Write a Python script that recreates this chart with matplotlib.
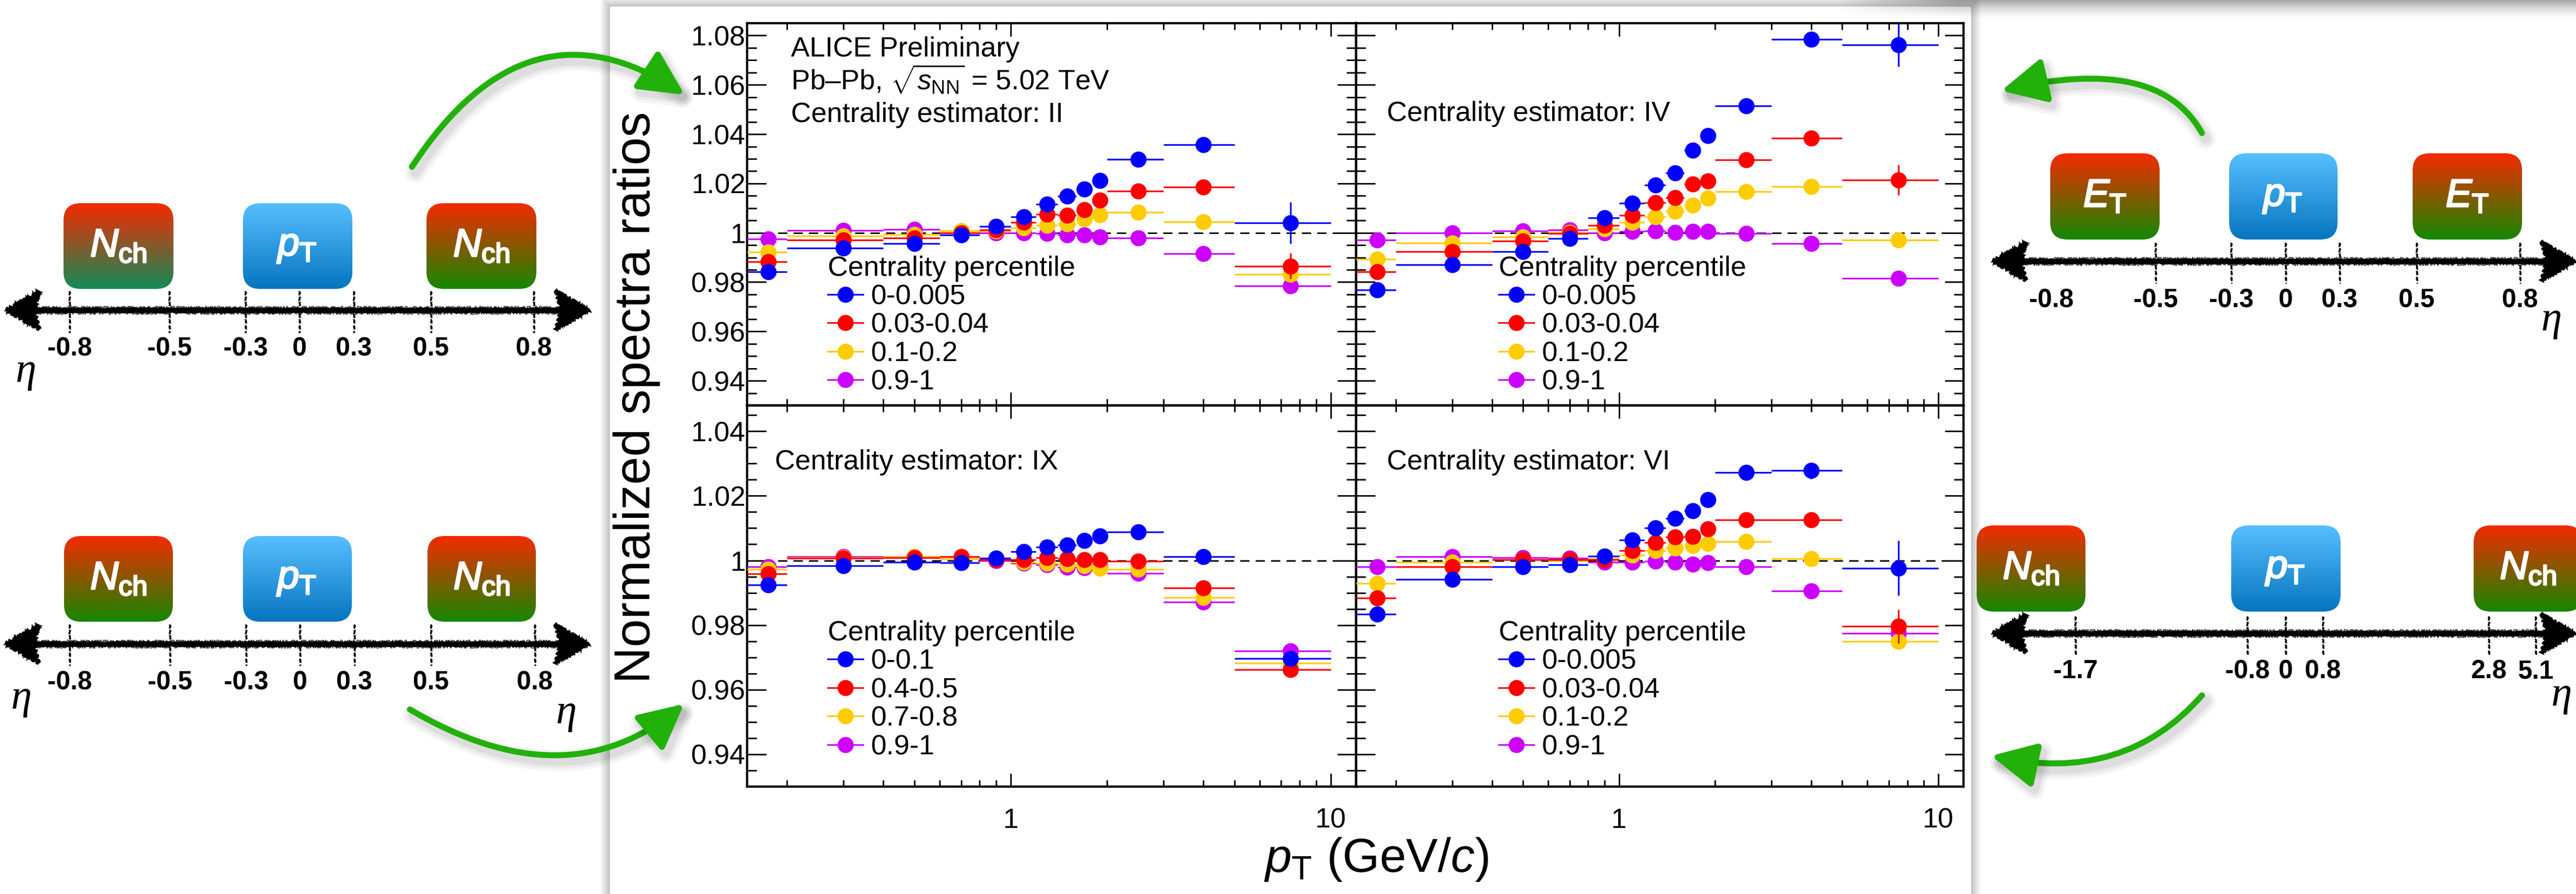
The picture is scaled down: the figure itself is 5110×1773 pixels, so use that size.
import numpy as np
import matplotlib

matplotlib.use("Agg")
import matplotlib.pyplot as plt
import matplotlib.patheffects as pe
from matplotlib.colors import to_rgb
from matplotlib.lines import Line2D
from matplotlib.patches import FancyArrowPatch, FancyBboxPatch, Polygon, Rectangle
from matplotlib.path import Path
from matplotlib.ticker import FixedLocator, FuncFormatter, MultipleLocator, NullFormatter

plt.rcParams["font.family"] = ["Liberation Sans", "DejaVu Sans"]
plt.rcParams["mathtext.fontset"] = "custom"
plt.rcParams["mathtext.rm"] = "Liberation Sans"
plt.rcParams["mathtext.it"] = "Liberation Sans:italic"
plt.rcParams["mathtext.bf"] = "Liberation Sans:bold"

W, H = 5110, 1773

# ---------------- data ----------------
pt_lo = [0.15, 0.2, 0.4, 0.6, 0.8, 1.0, 1.2, 1.4, 1.6, 1.8, 2.0, 3.0, 5.0]
pt_hi = [0.2, 0.4, 0.6, 0.8, 1.0, 1.2, 1.4, 1.6, 1.8, 2.0, 3.0, 5.0, 10.0]
pt_c = [0.175, 0.3, 0.5, 0.7, 0.9, 1.1, 1.3, 1.5, 1.7, 1.9, 2.5, 4.0, 7.5]

cent_ctr = ["0-0.005", "0.03-0.04", "0.1-0.2", "0.9-1"]
cent_IX = ["0-0.1", "0.4-0.5", "0.7-0.8", "0.9-1"]
series_colors = ["#0000ff", "#ff0000", "#ffcc00", "#cc00ff"]

# estimator II
II_0 = [0.9842, 0.9937, 0.9956, 0.9991, 1.0025, 1.0065, 1.0115, 1.0149, 1.0178, 1.0212, 1.0298, 1.0358, 1.0041]
II_1 = [0.9882, 0.9970, 0.9979, 1.0000, 1.0011, 1.0042, 1.0075, 1.0071, 1.0094, 1.0132, 1.0169, 1.0186, 0.9865]
II_2 = [0.9922, 0.9987, 0.9993, 1.0008, 1.0008, 1.0020, 1.0031, 1.0037, 1.0056, 1.0073, 1.0083, 1.0045, 0.9832]
II_3 = [0.9974, 1.0010, 1.0014, 1.0008, 0.9999, 1.0000, 0.9997, 0.9991, 0.9991, 0.9983, 0.9979, 0.9916, 0.9784]
II_err = [0.0004, 0.0003, 0.0003, 0.0003, 0.0003, 0.0004, 0.0004, 0.0005, 0.0005, 0.0006, 0.0006, 0.0012, 0.0084]
II_err_1 = [0.0004, 0.0003, 0.0003, 0.0003, 0.0003, 0.0004, 0.0004, 0.0005, 0.0005, 0.0006, 0.0006, 0.0010, 0.0052]

# estimator IV
IV_0 = [0.9769, 0.9870, 0.9924, 0.9976, 1.0060, 1.0121, 1.0194, 1.0243, 1.0335, 1.0393, 1.0515, 1.0785, 1.0763]
IV_1 = [0.9842, 0.9924, 0.9966, 0.9997, 1.0029, 1.0071, 1.0122, 1.0142, 1.0197, 1.0209, 1.0295, 1.0383, 1.0214]
IV_2 = [0.9893, 0.9959, 0.9982, 1.0002, 1.0016, 1.0042, 1.0065, 1.0088, 1.0111, 1.0140, 1.0166, 1.0188, 0.9970]
IV_3 = [0.9970, 1.0000, 1.0008, 1.0011, 1.0000, 1.0005, 1.0008, 1.0002, 1.0005, 1.0005, 0.9997, 0.9956, 0.9816]
IV_err = [0.0004, 0.0003, 0.0003, 0.0003, 0.0003, 0.0004, 0.0004, 0.0005, 0.0005, 0.0006, 0.0006, 0.0012, 0.0089]
IV_err_1 = [0.0004, 0.0003, 0.0003, 0.0003, 0.0003, 0.0004, 0.0004, 0.0005, 0.0005, 0.0006, 0.0006, 0.0010, 0.0061]

# estimator IX
IX_0 = [0.9924, 0.9983, 0.9995, 0.9993, 1.0007, 1.0027, 1.0041, 1.0047, 1.0062, 1.0076, 1.0089, 1.0012, 0.9697]
IX_1 = [0.9959, 1.0007, 1.0009, 1.0012, 1.0002, 1.0002, 1.0009, 1.0005, 1.0003, 1.0003, 0.9997, 0.9915, 0.9662]
IX_2 = [0.9972, 1.0009, 1.0011, 1.0005, 1.0002, 0.9995, 0.9991, 0.9989, 0.9984, 0.9976, 0.9972, 0.9886, 0.9682]
IX_3 = [0.9981, 1.0011, 1.0012, 1.0005, 1.0000, 0.9991, 0.9986, 0.9979, 0.9978, 0.9981, 0.9960, 0.9872, 0.9720]
IX_err = [0.0003, 0.0002, 0.0002, 0.0002, 0.0002, 0.0003, 0.0003, 0.0003, 0.0003, 0.0004, 0.0004, 0.0006, 0.0010]

# estimator VI
VI_0 = [0.9834, 0.9941, 0.9981, 0.9986, 1.0014, 1.0064, 1.0101, 1.0131, 1.0154, 1.0188, 1.0273, 1.0278, 0.9976]
VI_1 = [0.9884, 0.9981, 1.0002, 1.0002, 1.0002, 1.0030, 1.0055, 1.0073, 1.0074, 1.0097, 1.0125, 1.0126, 0.9796]
VI_2 = [0.9929, 0.9995, 1.0002, 1.0000, 1.0005, 1.0016, 1.0030, 1.0038, 1.0046, 1.0052, 1.0059, 1.0005, 0.9749]
VI_3 = [0.9981, 1.0012, 1.0009, 1.0007, 0.9995, 0.9995, 0.9997, 0.9995, 0.9989, 0.9993, 0.9981, 0.9905, 0.9774]
VI_err = [0.0004, 0.0003, 0.0003, 0.0003, 0.0003, 0.0004, 0.0004, 0.0005, 0.0005, 0.0006, 0.0008, 0.0026, 0.0085]
VI_err_1 = [0.0004, 0.0003, 0.0003, 0.0003, 0.0003, 0.0004, 0.0004, 0.0005, 0.0005, 0.0006, 0.0006, 0.0010, 0.0052]

small_err = [0.0003, 0.0002, 0.0002, 0.0002, 0.0002, 0.0003, 0.0003, 0.0003, 0.0003, 0.0004, 0.0004, 0.0008, 0.0025]

# eta labels of the schematic detector sketches
eta_mid = ["-0.8", "-0.5", "-0.3", "0", "0.3", "0.5", "0.8"]
eta_fwd = ["-1.7", "-0.8", "0", "0.8", "2.8", "5.1"]

N_CH = r"$\mathit{N}_{\mathrm{ch}}$"
P_T = r"$\mathit{p}_{\mathrm{T}}$"
E_T = r"$\mathit{E}_{\mathrm{T}}$"

# ---------------- figure ----------------
fig = plt.figure(figsize=(W / 100, H / 100), dpi=100)
fig.patch.set_facecolor("white")
bg = fig.add_axes([0, 0, 1, 1], zorder=0)
bg.set_axis_off()

# central white card with soft shadow
for k in range(1, 21):
    bg.add_patch(Rectangle((1210 - k, 13 - k), 2700 + 2 * k, H + 40, fc="k", ec="none", alpha=0.012, zorder=0.5))
bg.add_patch(Rectangle((1210, 13), 2700, H + 40, fc="white", ec="none", zorder=0.6))

# shadow of another card at the top right
ny, nx = 40, 300
ramp_y = 0.5 * (1 - np.linspace(0, 1, ny)) ** 1.6
ramp_x = np.clip(np.linspace(0, 1, nx) * 6, 0, 1)
rgba = np.zeros((ny, nx, 4))
rgba[..., :3] = 0.3
rgba[..., 3] = ramp_y[:, None] * ramp_x[None, :]
bg.imshow(rgba, extent=(3640, W, 40, 0), aspect="auto", zorder=0.8, interpolation="bilinear")

# ---------------- panels ----------------
PX = [(1482, 2690), (2690, 3895)]
PY = [(46, 804), (804, 1560)]
YLIM = [(0.930, 1.085), (0.930, 1.048)]


def px_axes(x0, x1, y0, y1):
    return fig.add_axes([x0 / W, 1 - y1 / H, (x1 - x0) / W, (y1 - y0) / H], zorder=2)


def ytick_fmt(v, p):
    return ("%.2f" % v).rstrip("0").rstrip(".")


panels = [
    dict(r=0, c=0, ys=[II_0, II_1, II_2, II_3], errs=[II_err, II_err_1, small_err, small_err], labels=cent_ctr,
         title="Centrality estimator: II", tpos=(0.072, 0.741), leg=(0.1325, 0.392)),
    dict(r=0, c=1, ys=[IV_0, IV_1, IV_2, IV_3], errs=[IV_err, IV_err_1, small_err, small_err], labels=cent_ctr,
         title="Centrality estimator: IV", tpos=(0.0506, 0.744), leg=(0.2347, 0.392)),
    dict(r=1, c=0, ys=[IX_0, IX_1, IX_2, IX_3], errs=[IX_err, IX_err, IX_err, IX_err], labels=cent_IX,
         title="Centrality estimator: IX", tpos=(0.0455, 0.832), leg=(0.1325, 0.436)),
    dict(r=1, c=1, ys=[VI_0, VI_1, VI_2, VI_3], errs=[VI_err, VI_err_1, small_err, small_err], labels=cent_ctr,
         title="Centrality estimator: VI", tpos=(0.0506, 0.832), leg=(0.2347, 0.436)),
]

xlo = np.array(pt_c) - np.array(pt_lo)
xhi = np.array(pt_hi) - np.array(pt_c)

for p in panels:
    ax = px_axes(PX[p["c"]][0], PX[p["c"]][1], PY[p["r"]][0], PY[p["r"]][1])
    ax.set_facecolor("none")
    ax.set_xscale("log")
    ax.set_xlim(0.15, 12)
    ax.set_ylim(*YLIM[p["r"]])
    ax.axhline(1.0, color="k", lw=2.2, ls=(0, (6, 4)), zorder=1)
    order = [3, 2, 1, 0]
    for i in order:
        ax.errorbar(pt_c, p["ys"][i], xerr=[xlo, xhi], yerr=p["errs"][i], fmt="o", color=series_colors[i],
                    ms=23, mew=0, elinewidth=2.4, capsize=0, zorder=3 + (3 - i))
    ax.xaxis.set_major_locator(FixedLocator([1, 10]))
    ax.xaxis.set_minor_locator(FixedLocator([0.2, 0.3, 0.4, 0.5, 0.6, 0.7, 0.8, 0.9, 2, 3, 4, 5, 6, 7, 8, 9]))
    ax.xaxis.set_minor_formatter(NullFormatter())
    if p["r"] == 1:
        ax.xaxis.set_major_formatter(FuncFormatter(lambda v, q: "%g" % v))
    else:
        ax.xaxis.set_major_formatter(NullFormatter())
    ax.yaxis.set_major_locator(MultipleLocator(0.02))
    ax.yaxis.set_minor_locator(MultipleLocator(0.005))
    ax.yaxis.set_major_formatter(FuncFormatter(ytick_fmt))
    ax.tick_params(axis="both", which="both", direction="in", top=True, right=True, width=2.2, labelsize=40)
    ax.tick_params(axis="y", which="major", length=27, pad=2)
    ax.tick_params(axis="y", which="minor", length=14)
    ax.tick_params(axis="x", which="major", length=19, pad=30)
    ax.tick_params(axis="x", which="minor", length=9.5)
    if p["c"] == 1:
        ax.tick_params(axis="y", labelleft=False)
    for s in ax.spines.values():
        s.set_linewidth(3.2)

    if p["r"] == 0 and p["c"] == 0:
        ax.text(0.072, 0.913, "ALICE Preliminary", transform=ax.transAxes, fontsize=40, va="baseline")
        ax.text(0.072, 0.826, r"Pb–Pb, $\sqrt{s_{\mathrm{NN}}}$ = 5.02 TeV", transform=ax.transAxes,
                fontsize=40, va="baseline")
    ax.text(p["tpos"][0], p["tpos"][1], p["title"], transform=ax.transAxes, fontsize=40, va="baseline")

    handles = [Line2D([0], [0], color=series_colors[i], lw=2.4, marker="o", ms=23, mew=0) for i in range(4)]
    ax.legend(handles, p["labels"], title="Centrality percentile", loc="upper left", bbox_to_anchor=p["leg"],
              frameon=False, fontsize=40, title_fontsize=40, alignment="left", handlelength=1.26,
              handletextpad=0.29, labelspacing=0.08, borderpad=0, borderaxespad=0)

fig.text(1263 / W, 1 - 788 / H, "Normalized spectra ratios", rotation=90, fontsize=72, ha="center", va="center")
fig.text(2730 / W, 1 - 1729 / H, r"$p_{\mathrm{T}}$ (GeV/$c$)", fontsize=68, ha="center", va="baseline")

# ---------------- detector sketches ----------------
GRAD = {
    "det": ("#f52a00", "#148800"),
    "det_teal": ("#f52a00", "#138a58"),
    "pt": ("#57bfff", "#0675bf"),
}

diagrams = [
    dict(axis_y=615, x_from=12, x_to=1169, labels=eta_mid, tick_x=[138, 336, 487, 594, 702, 855, 1059],
         tick_show=[1, 1, 1, 1, 1, 1, 1], tick_span=(577, 660), lbl_y=706,
         boxes=[(126, 344, 403, 573, "det_teal", N_CH), (482, 699, 403, 573, "pt", P_T),
                (846, 1064, 403, 573, "det", N_CH)], etas=[(51, 745)]),
    dict(axis_y=1277, x_from=11, x_to=1168, labels=eta_mid, tick_x=[138, 337, 488, 595, 703, 855, 1061],
         tick_show=[1, 1, 1, 1, 1, 1, 1], tick_span=(1238, 1320), lbl_y=1367,
         boxes=[(127, 343, 1063, 1233, "det", N_CH), (482, 698, 1063, 1233, "pt", P_T),
                (848, 1063, 1063, 1233, "det", N_CH)], etas=[(42, 1393), (1123, 1422)]),
    dict(axis_y=518, x_from=3953, x_to=5108, labels=eta_mid, tick_x=[4069, 4276, 4426, 4534, 4641, 4794, 4999],
         tick_show=[0, 1, 1, 1, 1, 1, 1], tick_span=(481, 562), lbl_y=609,
         boxes=[(4067, 4284, 304, 475, "det", E_T), (4422, 4637, 304, 475, "pt", P_T),
                (4786, 5003, 304, 475, "det", E_T)], etas=[(5061, 643)]),
    dict(axis_y=1256, x_from=3953, x_to=5108, labels=eta_fwd, tick_x=[4117, 4458, 4534, 4608, 4937, 5030],
         tick_show=[1, 1, 1, 1, 1, 1], tick_span=(1222, 1301), lbl_y=1345,
         boxes=[(3921, 4137, 1042, 1213, "det", N_CH), (4426, 4643, 1042, 1213, "pt", P_T),
                (4907, 5123, 1042, 1213, "det", N_CH)], etas=[(5081, 1387)]),
]


def draw_diagram(d):
    y = d["axis_y"]
    xa, xb = d["x_from"], d["x_to"]
    for x0, x1, y0, y1, kind, label in d["boxes"]:
        top, bot = (np.array(to_rgb(c)) for c in GRAD[kind])
        g = np.linspace(0, 1, 200)[:, None, None]
        img = (1 - g) * top[None, None, :] + g * bot[None, None, :]
        im = bg.imshow(img, extent=(x0, x1, y1, y0), aspect="auto", zorder=3, interpolation="bilinear")
        clip = FancyBboxPatch((x0, y0), x1 - x0, y1 - y0, boxstyle="round,pad=0,rounding_size=34",
                              fc="none", ec="none", transform=bg.transData)
        bg.add_patch(clip)
        im.set_clip_path(clip)
        bg.text((x0 + x1) / 2, (y0 + y1) / 2, label, color="white", fontsize=56, ha="center", va="center",
                zorder=4, path_effects=[pe.withStroke(linewidth=2.2, foreground="white")])

    ln, = bg.plot([xa + 50, xb - 50], [y, y], color="k", lw=6.5, solid_capstyle="butt", zorder=3)
    ln.set_sketch_params(1.6, 8, 6)
    for dy in (-5, -2, 3, 6):
        l2, = bg.plot([xa + 55, xb - 55], [y + dy, y + dy], color="k", lw=1.3, alpha=0.75, zorder=3)
        l2.set_sketch_params(2.5, 5, 10)
    for tip, sgn in ((xa, 1), (xb, -1)):
        tri = Polygon([(tip, y), (tip + sgn * 66, y - 38), (tip + sgn * 56, y), (tip + sgn * 66, y + 38)],
                      closed=True, fc="k", ec="k", lw=3, zorder=3)
        tri.set_sketch_params(2.5, 6, 8)
        bg.add_patch(tri)

    t0, t1 = d["tick_span"]
    for x, lbl, show in zip(d["tick_x"], d["labels"], d["tick_show"]):
        if show:
            tk, = bg.plot([x, x], [t0, t1], color="k", lw=2.4, ls=(0, (3, 1.2)), zorder=3)
            tk.set_sketch_params(0.8, 4, 4)
        bg.text(x, d["lbl_y"], lbl, fontsize=37, fontweight="bold", ha="center", va="baseline", zorder=3)

    for ex, ey in d["etas"]:
        bg.text(ex, ey - 8, "η", family=["Liberation Serif", "DejaVu Serif"], style="italic", fontsize=60,
                ha="center", va="center", zorder=3)


for d in diagrams:
    draw_diagram(d)


def green_arrow(p0, pc, p1):
    path = Path([p0, pc, p1], [Path.MOVETO, Path.CURVE3, Path.CURVE3])
    shadow = [pe.SimpleLineShadow(offset=(5, -8), shadow_color="k", alpha=a, linewidth=w)
              for a, w in ((0.035, 30), (0.045, 22), (0.06, 14))]
    arr = FancyArrowPatch(path=path, arrowstyle="-|>,head_length=54,head_width=27", mutation_scale=1,
                          lw=8.5, color="#22b109", zorder=6, path_effects=shadow + [pe.Normal()])
    bg.add_patch(arr)


green_arrow((817, 331), (1045, -18), (1358, 188))
green_arrow((813, 1407), (1124, 1590), (1357, 1396))
green_arrow((4368, 264), (4282, 108), (3970, 180))
green_arrow((4368, 1379), (4214, 1555), (3950, 1499))

bg.set_xlim(0, W)
bg.set_ylim(H, 0)

fig.savefig("out.png", dpi=100)
